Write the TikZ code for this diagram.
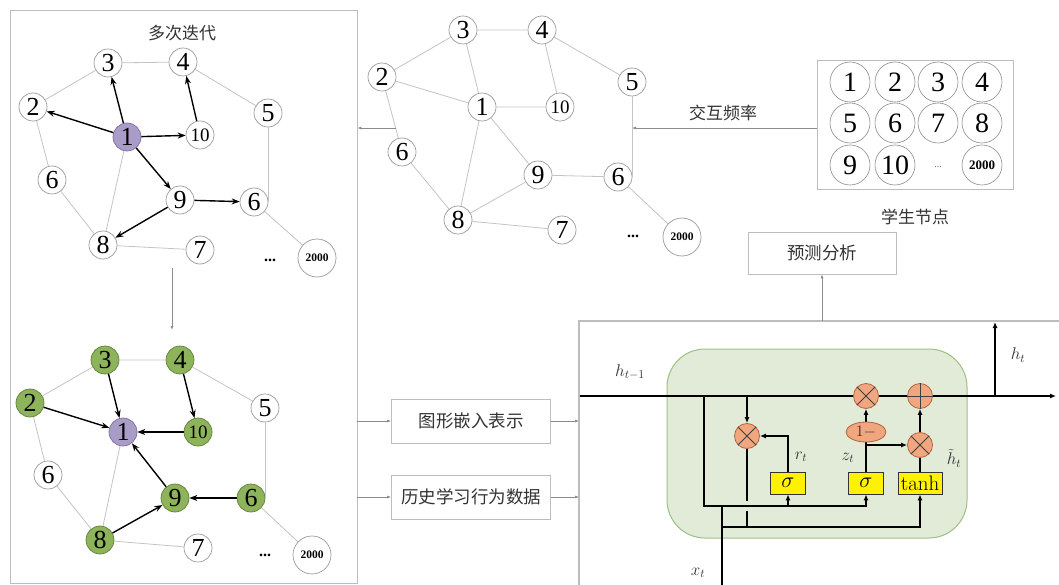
\RequirePackage{fix-cm}
\documentclass[tikz,border=0pt]{standalone}
\usepackage[no-math]{fontspec}
\setmainfont{Liberation Serif}
\newfontfamily\cjk{Noto Sans CJK SC}
\usetikzlibrary{arrows.meta,shapes.geometric}
\pgfdeclarelayer{back}
\pgfdeclarelayer{mid}
\pgfsetlayers{back,mid,main}
\definecolor{edgegray}{HTML}{C4C4C4}
\definecolor{boxgray}{HTML}{BDBDBD}
\definecolor{purp}{HTML}{A99CC7}
\definecolor{purpd}{HTML}{7C6EA3}
\definecolor{grn}{HTML}{8DB35B}
\definecolor{grnd}{HTML}{627F3A}
\definecolor{cellfill}{HTML}{E1EBD8}
\definecolor{celldraw}{HTML}{9DC083}
\definecolor{opfill}{HTML}{F0A67F}
\definecolor{opdraw}{HTML}{B5623F}
\definecolor{txt}{HTML}{333333}
\tikzset{
 gn/.style={circle, draw=black!40, fill=white, line width=0.7pt, minimum size=28pt, inner sep=0pt, font=\fontsize{26}{26}\selectfont},
 gten/.style={gn, font=\fontsize{19}{19}\selectfont},
 gbig/.style={gn, minimum size=38pt, font=\bfseries\fontsize{11.5}{11.5}\selectfont},
 pu/.style={fill=purp, draw=purpd},
 gr/.style={fill=grn, draw=grnd},
 ed/.style={draw=edgegray, line width=0.8pt},
 ar/.style={draw=black, line width=1.4pt, -{Stealth[length=8pt,width=6pt]}},
 flow/.style={draw=black!45, line width=0.7pt, -{Latex[length=4pt,width=3pt]}},
 lbl/.style={font=\cjk\fontsize{17}{17}\selectfont, text=txt},
 tbox/.style={draw=boxgray, line width=0.8pt, minimum width=159pt, minimum height=44pt, inner sep=0pt, font=\cjk\fontsize{17.5}{17.5}\selectfont, text=txt},
 sn/.style={circle, draw=black!45, line width=0.6pt, minimum size=40pt, inner sep=0pt, font=\fontsize{28}{28}\selectfont},
 op/.style={circle, draw=opdraw, fill=opfill, line width=0.8pt, minimum size=25pt, inner sep=0pt},
 gate/.style={draw=black!80, fill=yellow, line width=0.8pt, minimum height=22pt, inner sep=0pt},
 gl/.style={line width=1.6pt, draw=black},
 ga/.style={gl, -{Latex[length=6pt,width=5pt]}},
 ml/.style={text=txt, font=\fontsize{17}{17}\selectfont},
 dots/.style={font=\bfseries\fontsize{16}{16}\selectfont},
}
\begin{document}
\begin{tikzpicture}[x=1pt,y=-1pt]
\useasboundingbox (0,0) rectangle (1059,585);
\clip (0,0) rectangle (1059,585);
\begin{pgfonlayer}{back}
\fill[white] (0,0) rectangle (1059,585);
\end{pgfonlayer}

% ---------- left frame ----------
\node[draw=boxgray, line width=0.8pt, minimum width=347pt, minimum height=573pt, inner sep=0pt] (L) at (183.5,296.5) {};
\node[lbl] (iter) at (182,33) {多次迭代};

% ---------- graph A ----------
\node[gn] (a3) at (108,63) {3};
\node[gn] (a4) at (183,62) {4};
\node[gn] (a2) at (33,107) {2};
\node[gn] (a5) at (268,113) {5};
\node[gn,pu] (a1) at (127,137) {1};
\node[gten] (a10) at (200,135) {10};
\node[gn] (a6l) at (52,180) {6};
\node[gn] (a9) at (180,200) {9};
\node[gn] (a6r) at (254,202) {6};
\node[gn] (a8) at (103,245) {8};
\node[gn] (a7) at (200,250) {7};
\node[dots] (adots) at (270,260) {...};
\node[gbig] (a2000) at (317,258) {2000};
\draw[ed] (a3)--(a4) (a2)--(a3) (a4)--(a5) (a2)--(a6l) (a6l)--(a8) (a1)--(a8) (a8)--(a7) (a6r)--(a2000);
\draw[ed] (a5.south) -- (a5.south |- a6r.center);
\draw[ar] (a1)--(a3);
\draw[ar] (a1)--(a2);
\draw[ar] (a1)--(a10);
\draw[ar] (a10)--(a4);
\draw[ar] (a1)--(a9);
\draw[ar] (a9)--(a6r);
\draw[ar] (a9)--(a8);

\coordinate (itA) at (172,268);
\coordinate (itB) at (172,330);
\draw[flow] (itA) -- (itB);

% ---------- graph B ----------
\node[gn,gr] (b3) at (105,360) {3};
\node[gn,gr] (b4) at (180,360) {4};
\node[gn,gr] (b2) at (30,403) {2};
\node[gn] (b5) at (265,408) {5};
\node[gn,pu] (b1) at (123,432) {1};
\node[gten,gr] (b10) at (198,432) {10};
\node[gn] (b6l) at (48,475) {6};
\node[gn,gr] (b9) at (175,498) {9};
\node[gn,gr] (b6r) at (251,498) {6};
\node[gn,gr] (b8) at (100,540) {8};
\node[gn] (b7) at (198,548) {7};
\node[dots] (bdots) at (265,555) {...};
\node[gbig] (b2000) at (312,555) {2000};
\draw[ed] (b3)--(b4) (b2)--(b3) (b4)--(b5) (b2)--(b6l) (b6l)--(b8) (b1)--(b8) (b8)--(b7) (b6r)--(b2000);
\draw[ed] (b5.south) -- (b5.south |- b6r.center);
\draw[ar] (b3)--(b1);
\draw[ar] (b2)--(b1);
\draw[ar] (b4)--(b10);
\draw[ar] (b10)--(b1);
\draw[ar] (b9)--(b1);
\draw[ar] (b6r)--(b9);
\draw[ar] (b8)--(b9);

% ---------- graph C ----------
\node[gn] (c3) at (463,30) {3};
\node[gn] (c4) at (542,30) {4};
\node[gn] (c2) at (382,77) {2};
\node[gn] (c5) at (632,82) {5};
\node[gn] (c1) at (482,107) {1};
\node[gten] (c10) at (560,107) {10};
\node[gn] (c6l) at (402,152) {6};
\node[gn] (c9) at (538,175) {9};
\node[gn] (c6r) at (618,177) {6};
\node[gn] (c8) at (458,220) {8};
\node[gn] (c7) at (562,230) {7};
\node[dots] (cdots) at (633,236) {...};
\node[gbig] (c2000) at (682,237) {2000};
\draw[ed] (c3)--(c4) (c2)--(c3) (c3)--(c1) (c2)--(c1) (c4)--(c10) (c4)--(c5) (c1)--(c10)
  (c2)--(c6l) (c1)--(c8) (c1)--(c9) (c6l)--(c8) (c8)--(c9) (c9)--(c6r) (c8)--(c7) (c6r)--(c2000);
\draw[ed] (c5.south) -- (c5.south |- c6r.center);

\coordinate (cin) at (632,128);
\coordinate (cout) at (396,128);
\draw[flow] (cout) -- (L.east |- cout);

% ---------- student nodes ----------
\node[draw=boxgray, line width=0.8pt, minimum width=196pt, minimum height=129pt, inner sep=0pt] (stu) at (915,124.5) {};
\node[sn] (s1n) at (850,82) {1};
\node[sn] (s2n) at (895,82) {2};
\node[sn] (s3n) at (938,82) {3};
\node[sn] (s4n) at (982,82) {4};
\node[sn] (s5n) at (850,123) {5};
\node[sn] (s6n) at (895,123) {6};
\node[sn] (s7n) at (938,123) {7};
\node[sn] (s8n) at (982,123) {8};
\node[sn] (s9n) at (850,165) {9};
\node[sn] (s10n) at (895,165) {10};
\node[text=black!60, font=\fontsize{10}{10}\selectfont] (sdots) at (938,167) {...};
\node[sn, font=\bfseries\fontsize{13}{13}\selectfont] (s2000) at (982,165) {2000};
\node[lbl] (stulbl) at (915,217) {学生节点};
\draw[flow] (stu.west |- cin) -- (cin);
\node[lbl] (freq) at (723,113) {交互频率};

% ---------- prediction ----------
\node[tbox, minimum width=148pt, minimum height=42pt] (pred) at (822,253) {预测分析};

% ---------- GRU frame ----------
\coordinate (G) at (579,321);
\draw[boxgray, line width=1.5pt] (1070,321) -- (G) -- (579,600);
\draw[flow] (pred.south |- G) -- (pred.south);

% ---------- middle boxes ----------
\node[tbox] (emb) at (471,421) {图形嵌入表示};
\node[tbox] (hist) at (471,497) {历史学习行为数据};
\draw[flow] (L.east |- emb) -- (emb.west);
\draw[flow] (emb.east) -- (G |- emb.east);
\draw[flow] (L.east |- hist) -- (hist.west);
\draw[flow] (hist.east) -- (G |- hist.east);

% ---------- GRU cell ----------
\begin{pgfonlayer}{back}
\draw[draw=celldraw, fill=cellfill, line width=1pt, rounded corners=38pt] (667,349) rectangle (967,538);
\end{pgfonlayer}

\node[op] (m1) at (866,396) {};
\node[op] (pl) at (920,396) {};
\node[op] (mr) at (747,436) {};
\node[op] (m2) at (920,445) {};
\node[ellipse, draw=opdraw, fill=opfill, line width=0.8pt, minimum width=40pt, minimum height=20pt, inner sep=0pt, font=\fontsize{16}{16}\selectfont, text=black!80] (om) at (866,432) {$1-$};
\node[gate, minimum width=35pt, font=\fontsize{22}{22}\selectfont] (g1) at (788,483) {$\sigma$};
\node[gate, minimum width=35pt, font=\fontsize{22}{22}\selectfont] (g2) at (866,483) {$\sigma$};
\node[gate, minimum width=44pt, font=\fontsize{21}{21}\selectfont] (gt) at (920,483) {$\tanh$};
\foreach \n in {m1,mr,m2}{
  \draw[black!75, line width=0.9pt] (\n.45) -- (\n.225) (\n.135) -- (\n.315);
}
\draw[black!75, line width=0.9pt] (pl.north) -- (pl.south) (pl.west) -- (pl.east);

\coordinate (hin) at (579,396);
\coordinate (hout) at (1056,396);
\coordinate (j1) at (704,396);
\coordinate (j1b) at (704,506);
\coordinate (xb) at (722,590);
\coordinate (xj) at (722,506);
\coordinate (xk) at (722,527);
\coordinate (hup) at (995,396);
\coordinate (htop) at (995,322);
\coordinate (gapA) at (747,501);
\coordinate (gapB) at (747,511);

\begin{pgfonlayer}{mid}
\draw[ga] (hin) -- (hout);
\draw[ga] (j1) -- (j1b) -| (g2.south);
\draw[ga] (g1.south |- j1b) -- (g1.south);
\draw[gl] (xb) -- (xj);
\draw[ga] (xk) -| (gt.south);
\draw[ga] (mr.north |- hin) -- (mr.north);
\draw[ga] (g1.north) |- (mr.east);
\draw[gl] (mr.south) -- (gapA);
\draw[gl] (gapB) -- (mr.south |- xk);
\draw[gl] (g2.north) -- (om.south);
\draw[ga] (g2.north |- m2.west) -- (m2.west);
\draw[ga] (om.north) -- (m1.south);
\draw[gl] (gt.north) -- (m2.south);
\draw[ga] (m2.north) -- (pl.south);
\draw[ga] (hup) -- (htop);
\end{pgfonlayer}

\node[ml] (lhp) at (630,372) {$h_{t-1}$};
\node[ml] (lht) at (1018,355) {$h_t$};
\node[ml] (lrt) at (801,457) {$r_t$};
\node[ml] (lzt) at (848,458) {$z_t$};
\node[ml] (lhtil) at (954,458) {$\tilde{h}_t$};
\node[ml] (lxt) at (698,573) {$x_t$};
\end{tikzpicture}
\end{document}
